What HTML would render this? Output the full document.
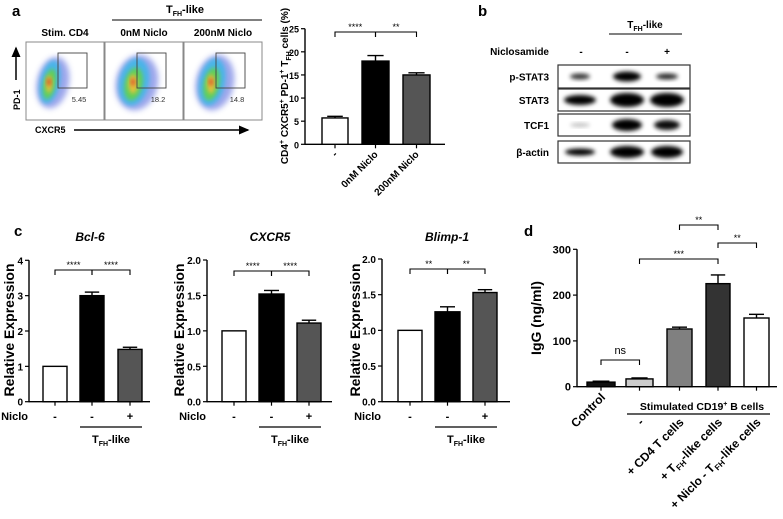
<!DOCTYPE html>
<html><head><meta charset="utf-8">
<style>
html,body{margin:0;padding:0;background:#fff;}
svg{display:block;font-family:"Liberation Sans",Arial,sans-serif;font-weight:bold;}
</style></head>
<body>
<svg id="fig" width="783" height="519" viewBox="0 0 783 519">
<defs>
<filter id="blur2" x="-50%" y="-50%" width="200%" height="200%"><feGaussianBlur stdDeviation="2.2"/></filter>
<filter id="blur3" x="-50%" y="-50%" width="200%" height="200%"><feGaussianBlur stdDeviation="3"/></filter>
<marker id="arr" markerWidth="8" markerHeight="8" refX="6" refY="4" orient="auto"><path d="M0,1 L7,4 L0,7 Z" fill="#000"/></marker>
</defs>

<g>
<text x="12" y="16" font-size="15">a</text>
<text x="185" y="13" font-size="11" text-anchor="middle">T<tspan font-size="7" dy="3">FH</tspan><tspan dy="-3">-like</tspan></text>
<line x1="112" y1="20" x2="262" y2="20" stroke="#000" stroke-width="1"/>
<text x="65" y="36" font-size="10" text-anchor="middle">Stim. CD4</text>
<text x="144" y="36" font-size="10" text-anchor="middle">0nM Niclo</text>
<text x="223" y="36" font-size="10" text-anchor="middle">200nM Niclo</text>
<g id="flowplots"></g>
<line x1="16" y1="80" x2="16" y2="48" stroke="#000" stroke-width="1.5" marker-end="url(#arr)"/>
<text x="0" y="0" font-size="9" transform="translate(20,110) rotate(-90)">PD-1</text>
<text x="35" y="133" font-size="9">CXCR5</text>
<line x1="74" y1="130" x2="248" y2="130" stroke="#000" stroke-width="1.5" marker-end="url(#arr)"/>
</g>

<g id="chartA"></g>

<g>
<text x="478" y="16" font-size="15">b</text>
<text x="645" y="28" font-size="10" text-anchor="middle">T<tspan font-size="7" dy="3">FH</tspan><tspan dy="-3">-like</tspan></text>
<line x1="609" y1="34" x2="682" y2="34" stroke="#000"/>
<text x="549" y="55" font-size="10" text-anchor="end">Niclosamide</text>
<text x="581" y="55" font-size="10" text-anchor="middle">-</text>
<text x="627" y="55" font-size="10" text-anchor="middle">-</text>
<text x="667" y="55" font-size="10" text-anchor="middle">+</text>
<g id="blots"></g>
</g>

<text x="14" y="236" font-size="15">c</text>
<g id="chartC1"></g>
<g id="chartC2"></g>
<g id="chartC3"></g>

<text x="524" y="236" font-size="15">d</text>
<g id="chartD"></g>
</svg>

<script>
var aCategories = ["-", "0nM Niclo", "200nM Niclo"];
var aValues = [5.7, 18.0, 15.0];
var aErrors = [0.35, 1.2, 0.45];
var aTicks = [0, 5, 10, 15, 20, 25];
var flowPercents = ["5.45", "18.2", "14.8"];

var bcl6Values = [1.0, 3.0, 1.48];
var bcl6Errors = [0.0, 0.1, 0.06];
var bcl6Ticks = [0, 1, 2, 3, 4];
var cxcr5Values = [1.0, 1.52, 1.11];
var cxcr5Errors = [0.0, 0.05, 0.04];
var cxcr5Ticks = [0.0, 0.5, 1.0, 1.5, 2.0];
var blimpValues = [1.0, 1.26, 1.53];
var blimpErrors = [0.0, 0.07, 0.04];
var blimpTicks = [0.0, 0.5, 1.0, 1.5, 2.0];
var nicloSigns = ["-", "-", "+"];

var dCategories = ["Control", "-", "+ CD4 T cells", "+ TFH-like cells", "+ Niclo - TFH-like cells"];
var dValues = [10, 17, 126, 225, 150];
var dErrors = [2, 2, 4, 19, 8];
var dTicks = [0, 100, 200, 300];

var NS = "http://www.w3.org/2000/svg";
function mk(parent, tag, attrs, text) {
  var e = document.createElementNS(NS, tag);
  for (var k in attrs) e.setAttribute(k, attrs[k]);
  if (text !== undefined) e.textContent = text;
  parent.appendChild(e);
  return e;
}
function fmt(v, dec) { return dec ? v.toFixed(1) : String(v); }

function drawBars(g, o, values, errors, ticks, fills) {
  var ymax = ticks[ticks.length - 1];
  function y(v) { return o.y0 - (v / ymax) * (o.y0 - o.yTop); }
  var ax = mk(g, "line", {x1: o.ax, y1: o.yTop, x2: o.ax, y2: o.y0 + 0.5, stroke: "#000", "stroke-width": 1.4});
  
  
  var xa = mk(g, "line", {x1: o.ax, y1: o.y0, x2: o.axEnd, y2: o.y0, stroke: "#000", "stroke-width": 1.4});
  
  
  ticks.forEach(function (t) {
    mk(g, "line", {x1: o.ax - 4, y1: y(t), x2: o.ax, y2: y(t), stroke: "#000", "stroke-width": 1.2});
    var tl = mk(g, "text", {x: o.ax - 6, y: y(t) + 4, "font-size": o.tfs, "text-anchor": "end"}, fmt(t, o.dec));
    
    
  });
  values.forEach(function (v, i) {
    var x1 = o.bars[i][0], x2 = o.bars[i][1], cx = (x1 + x2) / 2;
    var b = mk(g, "rect", {x: x1, y: y(v), width: x2 - x1, height: o.y0 - y(v), fill: fills[i], stroke: "#000", "stroke-width": 1.4});
    
    
    if (errors[i] > 0) {
      mk(g, "line", {x1: cx, y1: y(v), x2: cx, y2: y(v + errors[i]), stroke: "#000", "stroke-width": 1.4});
      mk(g, "line", {x1: cx - (x2 - x1) * 0.3, y1: y(v + errors[i]), x2: cx + (x2 - x1) * 0.3, y2: y(v + errors[i]), stroke: "#000", "stroke-width": 1.4});
    }
    mk(g, "line", {x1: cx, y1: o.y0, x2: cx, y2: o.y0 + 4, stroke: "#000", "stroke-width": 1.2});
  });
  (o.brackets || []).forEach(function (br) {
    var a = (o.bars[br[0]][0] + o.bars[br[0]][1]) / 2, c = (o.bars[br[1]][0] + o.bars[br[1]][1]) / 2;
    mk(g, "path", {d: "M" + a + "," + (br[2] + 5) + " V" + br[2] + " H" + c + " V" + (br[2] + 5), fill: "none", stroke: "#000", "stroke-width": 1.1});
    var st = mk(g, "text", {x: (a + c) / 2, y: br[2] - (br[3] === "ns" ? 6 : 2), "font-size": br[3] === "ns" ? 11 : 9, "font-weight": "normal", "text-anchor": "middle"}, br[3]);
    
    
  });
  return y;
}

(function () {
  var g = document.getElementById("chartA");
  var o = {ax: 305, axEnd: 445, y0: 144.3, yTop: 28.7, tfs: 9, dec: false,
    bars: [[322, 348], [362, 389], [403, 430]], brackets: [[0, 1, 32, "****"], [1, 2, 32, "**"]]};
  drawBars(g, o, aValues, aErrors, aTicks, ["#fff", "#000", "#555"]);
  aCategories.forEach(function (c, i) {
    var cx = (o.bars[i][0] + o.bars[i][1]) / 2;
    var t = mk(g, "text", {x: 0, y: 0, "font-size": 10, "text-anchor": "end", transform: "translate(" + (cx + 3) + "," + 155 + ") rotate(-45)"}, c);
    
    
  });
  var yl = mk(g, "text", {x: 0, y: 0, "font-size": 10, "text-anchor": "middle", transform: "translate(288,86) rotate(-90)"});
  
  
  yl.innerHTML = 'CD4<tspan font-size="7" dy="-4">+</tspan><tspan dy="4"> CXCR5</tspan><tspan font-size="7" dy="-4">+</tspan><tspan dy="4"> PD-1</tspan><tspan font-size="7" dy="-4">+</tspan><tspan dy="4"> T</tspan><tspan font-size="7" dy="3">FH</tspan><tspan dy="-3"> cells (%)</tspan>';
})();

(function () {
  var g = document.getElementById("flowplots");
  var boxes = [26, 105, 184];
  var blobs = [
    {cx: 50, cy: 82, rx: 10, ry: 22},
    {cx: 134, cy: 82, rx: 15, ry: 24},
    {cx: 212, cy: 82, rx: 13, ry: 24}
  ];
  boxes.forEach(function (x0, i) {
    var r = mk(g, "rect", {x: x0, y: 42, width: 78, height: 78, fill: "#fff", stroke: "#888", "stroke-width": 1});
    
    
    var b = blobs[i];
    mk(g, "ellipse", {cx: b.cx + 3, cy: b.cy, rx: b.rx + 6, ry: b.ry + 4, fill: "#3a4fd8", opacity: 0.5, filter: "url(#blur3)", transform: "rotate(12," + b.cx + "," + b.cy + ")"});
    mk(g, "ellipse", {cx: b.cx, cy: b.cy, rx: b.rx, ry: b.ry, fill: "#35b8e8", opacity: 0.8, filter: "url(#blur2)", transform: "rotate(12," + b.cx + "," + b.cy + ")"});
    mk(g, "ellipse", {cx: b.cx, cy: b.cy + 2, rx: b.rx * 0.6, ry: b.ry * 0.7, fill: "#5fcf5a", filter: "url(#blur2)", transform: "rotate(12," + b.cx + "," + b.cy + ")"});
    mk(g, "ellipse", {cx: b.cx - 1, cy: b.cy + 2, rx: b.rx * 0.3, ry: b.ry * 0.4, fill: "#e8c23a", filter: "url(#blur2)"});
    mk(g, "ellipse", {cx: b.cx - 1, cy: b.cy, rx: 2, ry: 4, fill: "#d84a2a", filter: "url(#blur2)"});
    var gate = mk(g, "rect", {x: x0 + 32, y: 53, width: 29, height: 35, fill: "none", stroke: "#444", "stroke-width": 0.9});
    
    
    var t = mk(g, "text", {x: x0 + 53, y: 102, "font-size": 7.5, "font-weight": "normal", "text-anchor": "middle", fill: "#333"}, flowPercents[i]);
    
    
  });
})();

(function () {
  var g = document.getElementById("blots");
  var rows = [["p-STAT3", 65, 88], ["STAT3", 89, 111], ["TCF1", 114, 136], ["\u03B2-actin", 141, 163]];
  var bands = [
    [[580, 10, 3, 0.8], [627, 14, 5, 1], [667, 11, 3, 0.85]],
    [[580, 16, 5, 1], [627, 17, 7, 1], [667, 17, 7, 1]],
    [[580, 10, 2, 0.25], [627, 15, 6, 1], [667, 13, 5, 0.95]],
    [[580, 15, 3.5, 1], [627, 17, 6, 1], [667, 16, 6, 1]]
  ];
  rows.forEach(function (r, i) {
    var l = mk(g, "text", {x: 549, y: (r[1] + r[2]) / 2 + 4, "font-size": 10, "text-anchor": "end"}, r[0]);
    
    
    var box = mk(g, "rect", {x: 558, y: r[1], width: 132, height: r[2] - r[1], fill: "#fff", stroke: "#333", "stroke-width": 1.2});
    
    
    bands[i].forEach(function (b) {
      mk(g, "ellipse", {cx: b[0], cy: (r[1] + r[2]) / 2, rx: b[1], ry: b[2], fill: "#000", opacity: b[3], filter: "url(#blur2)"});
    });
  });
})();

function chartC(id, title, titleX, o, vals, errs, ticks, ylX) {
  var g = document.getElementById(id);
  drawBars(g, o, vals, errs, ticks, ["#fff", "#000", "#555"]);
  var t = mk(g, "text", {x: titleX, y: 241, "font-size": 12, "font-style": "italic", "text-anchor": "middle"}, title);
  
  
  var yl = mk(g, "text", {x: 0, y: 0, "font-size": 14, "text-anchor": "middle", transform: "translate(" + ylX + ",330) rotate(-90)"}, "Relative Expression");
  
  
  var nl = mk(g, "text", {x: o.ax - 1, y: 420, "font-size": 11, "text-anchor": "end"}, "Niclo");
  
  
  nicloSigns.forEach(function (s, i) {
    mk(g, "text", {x: (o.bars[i][0] + o.bars[i][1]) / 2, y: 420, "font-size": 11, "text-anchor": "middle"}, s);
  });
  mk(g, "line", {x1: o.bars[1][0], y1: 427, x2: o.bars[2][1], y2: 427, stroke: "#000", "stroke-width": 1.2});
  var tf = mk(g, "text", {x: (o.bars[1][0] + o.bars[2][1]) / 2, y: 443, "font-size": 11, "text-anchor": "middle"});
  
  
  tf.innerHTML = 'T<tspan font-size="7" dy="3">FH</tspan><tspan dy="-3">-like</tspan>';
}
chartC("chartC1", "Bcl-6", 90, {ax: 29, axEnd: 150, y0: 401.7, yTop: 260.3, tfs: 10, dec: false,
  bars: [[43, 67], [80, 104], [118, 142]], brackets: [[0, 1, 270, "****"], [1, 2, 270, "****"]]}, bcl6Values, bcl6Errors, bcl6Ticks, 14);
chartC("chartC2", "CXCR5", 270, {ax: 207, axEnd: 332, y0: 401.7, yTop: 260, tfs: 10, dec: true,
  bars: [[222, 246], [259, 284], [297, 321]], brackets: [[0, 1, 271, "****"], [1, 2, 271, "****"]]}, cxcr5Values, cxcr5Errors, cxcr5Ticks, 184);
chartC("chartC3", "Blimp-1", 447, {ax: 382, axEnd: 510, y0: 401.7, yTop: 259, tfs: 10, dec: true,
  bars: [[398, 422], [435, 460], [473, 497]], brackets: [[0, 1, 269, "**"], [1, 2, 269, "**"]]}, blimpValues, blimpErrors, blimpTicks, 360);

(function () {
  var g = document.getElementById("chartD");
  var o = {ax: 577, axEnd: 777, y0: 386.7, yTop: 249.3, tfs: 11, dec: false,
    bars: [[587, 615], [626, 653], [667, 692], [706, 730], [744, 769]],
    brackets: [[0, 1, 360, "ns"], [1, 3, 259, "***"], [3, 4, 243, "**"], [2, 3, 225, "**"]]};
  drawBars(g, o, dValues, dErrors, dTicks, ["#111", "#ccc", "#808080", "#333", "#fff"]);
  var yl = mk(g, "text", {x: 0, y: 0, "font-size": 14, "text-anchor": "middle", transform: "translate(541,318) rotate(-90)"}, "IgG (ng/ml)");
  
  
  var sl = mk(g, "text", {x: 702, y: 410, "font-size": 10.5, "text-anchor": "middle"});
  
  
  sl.innerHTML = 'Stimulated CD19<tspan font-size="7" dy="-4">+</tspan><tspan dy="4"> B cells</tspan>';
  mk(g, "line", {x1: 627, y1: 414, x2: 770, y2: 414, stroke: "#000", "stroke-width": 1.2});
  dCategories.forEach(function (c, i) {
    var cx = (o.bars[i][0] + o.bars[i][1]) / 2;
    var yy = i === 0 ? 398 : 423;
    var t = mk(g, "text", {x: 0, y: 0, "font-size": 12, "text-anchor": "end", transform: "translate(" + (cx + 5) + "," + yy + ") rotate(-45)"});
    
    
    if (c.indexOf("TFH") >= 0) {
      var parts = c.split("TFH");
      t.innerHTML = parts[0] + 'T<tspan font-size="8" dy="3">FH</tspan><tspan dy="-3">' + parts[1] + '</tspan>';
    } else t.textContent = c;
  });
})();
</script>
</body></html>
